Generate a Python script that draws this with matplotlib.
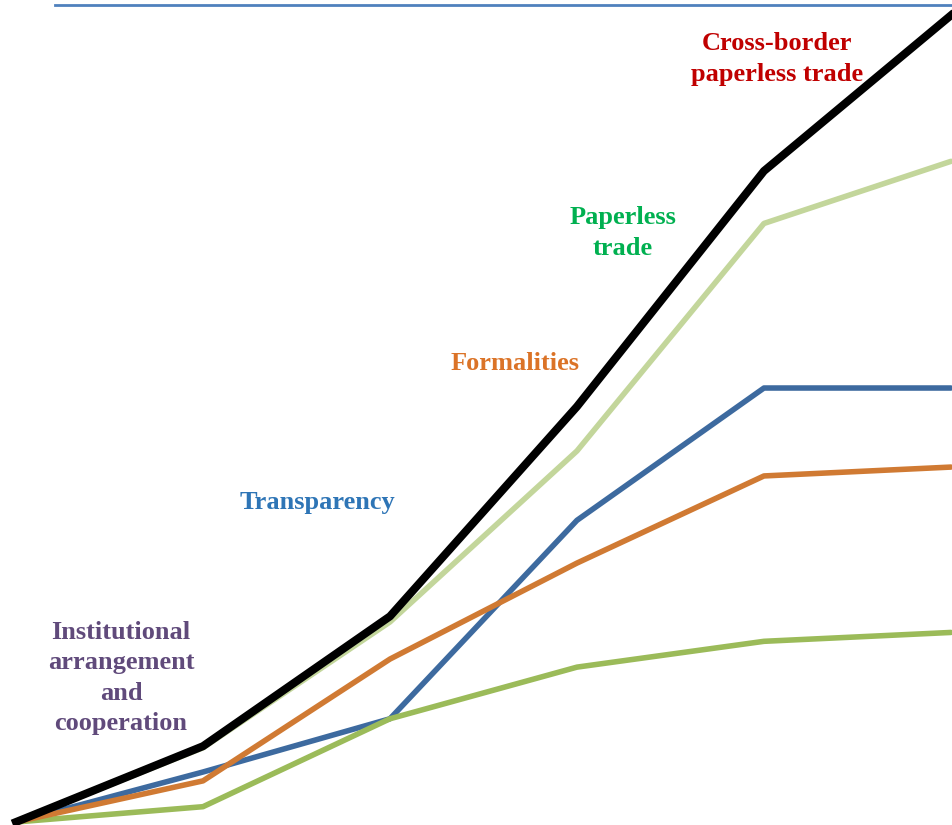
import matplotlib.pyplot as plt

# stages along the x axis (unlabelled in the original)
stages = [0, 1, 2, 3, 4, 5]

# cumulative values per series
cross_border = [0, 9.4, 25.5, 51.5, 80.7, 100]
paperless = [0, 9.2, 24.8, 46.0, 74.2, 81.9]
transparency = [0, 6.2, 12.8, 37.4, 53.8, 53.8]
formalities = [0, 5.1, 20.2, 32.1, 42.9, 44.0]
institutional = [0, 1.9, 12.8, 19.2, 22.4, 23.5]

fig = plt.figure(figsize=(9.53, 8.25), dpi=100)
ax = fig.add_axes([0, 0, 1, 1])

ax.plot(stages, transparency, color='#3D6A9F', lw=4, solid_capstyle='round')
ax.plot(stages, institutional, color='#9BBB59', lw=4, solid_capstyle='round')
ax.plot(stages, formalities, color='#D07A33', lw=4, solid_capstyle='round')
ax.plot(stages, paperless, color='#C3D69B', lw=4, solid_capstyle='round')
ax.plot(stages, cross_border, color='black', lw=5.8)

ax.set_xlim(-0.0856, 5.011)
ax.set_ylim(-0.37, 101.9)
ax.axis('off')

# thin rule along the top
ax.axhline(101.3, xmin=55 / 953, xmax=951 / 953, color='#4F81BD', lw=2)

font = dict(family='Liberation Serif', fontweight='bold', fontsize=19,
            ha='center', va='center', linespacing=1.4)
fig.text(777 / 953, 1 - 59 / 825, 'Cross-border\npaperless trade', color='#C00000', **font)
fig.text(623 / 953, 1 - 233 / 825, 'Paperless\ntrade', color='#00B050', **font)
fig.text(515 / 953, 1 - 364 / 825, 'Formalities', color='#DB7327', **font)
fig.text(317 / 953, 1 - 502 / 825, 'Transparency', color='#2E75B6', **font)
fig.text(121 / 953, 1 - 678 / 825, 'Institutional\narrangement\nand\ncooperation',
         color='#604A7B', **font)

plt.savefig('out.png', dpi=100)
plt.close(fig)
